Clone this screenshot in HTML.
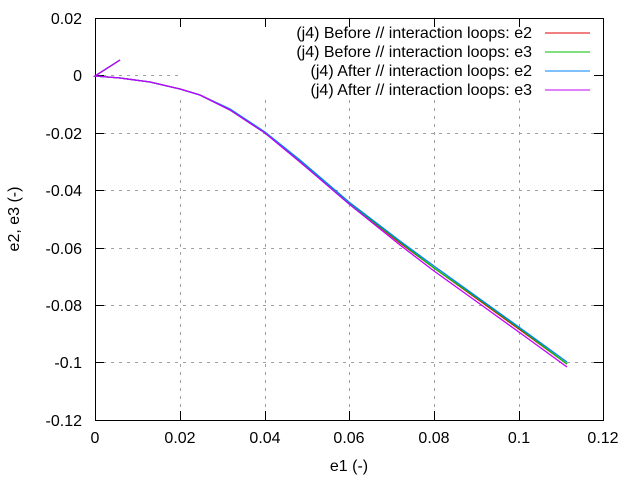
<!DOCTYPE html>
<html><head><style>body{margin:0;background:#fff}svg{display:block}text{font-family:"Liberation Sans",sans-serif;font-size:16px;fill:#000}</style></head><body>
<svg width="640" height="480" xmlns="http://www.w3.org/2000/svg">
<g stroke="#a0a0a0" stroke-dasharray="3,5" stroke-width="1">
<line x1="95" y1="18.5" x2="603" y2="18.5"/>
<line x1="95" y1="75.5" x2="178" y2="75.5"/>
<line x1="95" y1="133.5" x2="603" y2="133.5"/>
<line x1="95" y1="190.5" x2="603" y2="190.5"/>
<line x1="95" y1="248.5" x2="603" y2="248.5"/>
<line x1="95" y1="305.5" x2="603" y2="305.5"/>
<line x1="95" y1="362.5" x2="603" y2="362.5"/>
<line x1="180.5" y1="100" x2="180.5" y2="420"/>
<line x1="265.5" y1="100" x2="265.5" y2="420"/>
<line x1="349.5" y1="100" x2="349.5" y2="420"/>
<line x1="434.5" y1="100" x2="434.5" y2="420"/>
<line x1="519.5" y1="100" x2="519.5" y2="420"/>
</g>
<rect x="95.5" y="18.5" width="508" height="402" fill="none" stroke="#000"/>
<g stroke="#000">
<line x1="95" y1="18.5" x2="104" y2="18.5"/><line x1="594" y1="18.5" x2="603" y2="18.5"/>
<line x1="95" y1="75.5" x2="104" y2="75.5"/><line x1="594" y1="75.5" x2="603" y2="75.5"/>
<line x1="95" y1="133.5" x2="104" y2="133.5"/><line x1="594" y1="133.5" x2="603" y2="133.5"/>
<line x1="95" y1="190.5" x2="104" y2="190.5"/><line x1="594" y1="190.5" x2="603" y2="190.5"/>
<line x1="95" y1="248.5" x2="104" y2="248.5"/><line x1="594" y1="248.5" x2="603" y2="248.5"/>
<line x1="95" y1="305.5" x2="104" y2="305.5"/><line x1="594" y1="305.5" x2="603" y2="305.5"/>
<line x1="95" y1="362.5" x2="104" y2="362.5"/><line x1="594" y1="362.5" x2="603" y2="362.5"/>
<line x1="180.5" y1="420" x2="180.5" y2="411"/><line x1="180.5" y1="18" x2="180.5" y2="27"/>
<line x1="265.5" y1="420" x2="265.5" y2="411"/><line x1="265.5" y1="18" x2="265.5" y2="27"/>
<line x1="349.5" y1="420" x2="349.5" y2="411"/><line x1="349.5" y1="18" x2="349.5" y2="27"/>
<line x1="434.5" y1="420" x2="434.5" y2="411"/><line x1="434.5" y1="18" x2="434.5" y2="27"/>
<line x1="519.5" y1="420" x2="519.5" y2="411"/><line x1="519.5" y1="18" x2="519.5" y2="27"/>
</g>
<g text-anchor="end">
<text x="82" y="24">0.02</text><text x="82" y="81">0</text><text x="82" y="139">-0.02</text>
<text x="82" y="196">-0.04</text><text x="82" y="254">-0.06</text><text x="82" y="311">-0.08</text>
<text x="82" y="368">-0.1</text><text x="82" y="426">-0.12</text>
</g>
<g text-anchor="middle">
<text x="95" y="443">0</text><text x="180" y="443">0.02</text><text x="265" y="443">0.04</text>
<text x="349" y="443">0.06</text><text x="434" y="443">0.08</text><text x="519" y="443">0.1</text><text x="603" y="443">0.12</text>
<text x="349" y="471">e1 (-)</text>
<text transform="translate(19,219) rotate(-90)">e2, e3 (-)</text>
</g>
<g text-anchor="end">
<text x="532" y="38">(j4) Before // interaction loops: e2</text>
<text x="532" y="57">(j4) Before // interaction loops: e3</text>
<text x="532" y="76">(j4) After // interaction loops: e2</text>
<text x="532" y="95">(j4) After // interaction loops: e3</text>
</g>
<line x1="545" y1="33" x2="590" y2="33" stroke="#e00000"/>
<line x1="545" y1="52" x2="590" y2="52" stroke="#00c000"/>
<line x1="545" y1="71" x2="590" y2="71" stroke="#0080ff"/>
<line x1="545" y1="90" x2="590" y2="90" stroke="#c000ff"/>
<g fill="none" stroke-width="1.3">
<polyline stroke="#e00000" points="95,76 120,60 95,76 120,78 150,82 180,89 200,95 230,110 265,133 300,162 349,203 400,243 434,268 480,301 523,332 567,364"/>
<polyline stroke="#00c000" points="95,76 120,60 95,76 120,78 150,82 180,89 200,95 230,110 265,133 300,161 349,203 400,242 434,268 480,300 523,331 567,364"/>
<polyline stroke="#0080ff" points="95,76 120,60 95,76 120,78 150,82 180,89 200,95 230,109 265,132 300,160 349,202 400,241 434,266 480,299 523,330 567,362"/>
<polyline stroke="#c000ff" points="95,76 120,60 95,76 120,78 150,82 180,89 200,95 230,110 265,133 300,162 349,204 400,245 434,271 480,304 523,335 567,367"/>
</g>
</svg>
</body></html>
